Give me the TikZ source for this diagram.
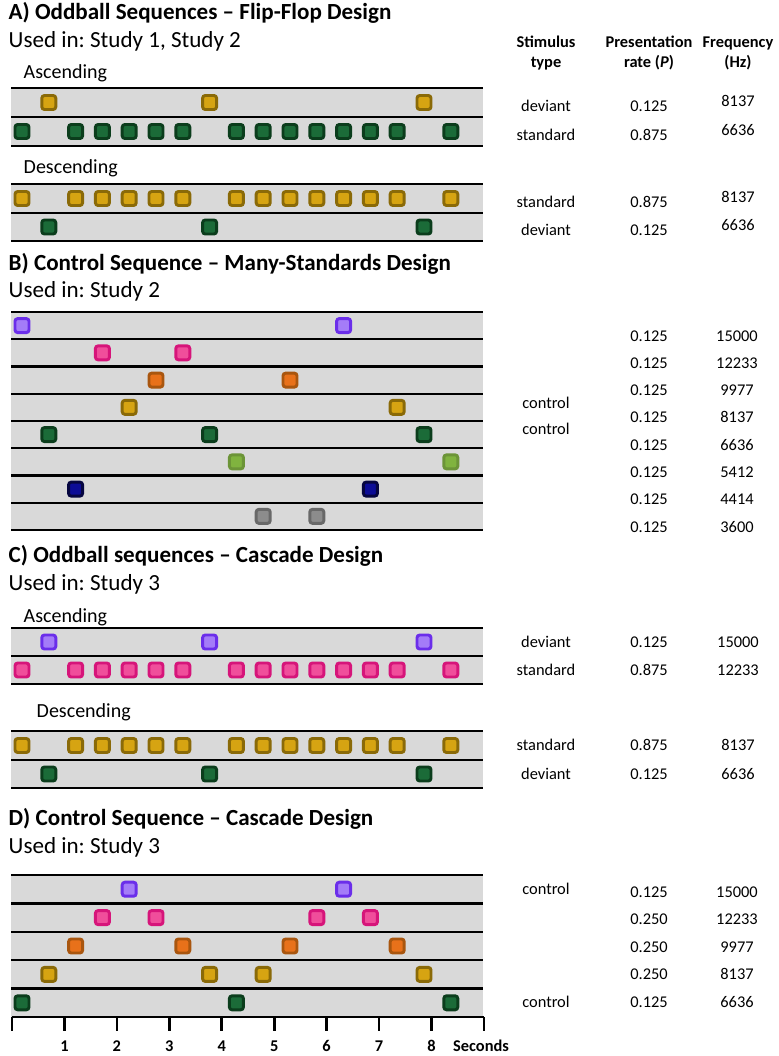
\documentclass[tikz,border=0pt]{standalone}
\usepackage{fontspec}
\setmainfont{Carlito}
\usepackage{xcolor}
\usepackage{tikz}
\frenchspacing

\definecolor{lanegray}{HTML}{D9D9D9}
\definecolor{violetedge}{HTML}{6B2EEA}\definecolor{violetfill}{HTML}{A47CF8}
\definecolor{pinkedge}{HTML}{D6157A}\definecolor{pinkfill}{HTML}{F04E9B}
\definecolor{orangeedge}{HTML}{A9560F}\definecolor{orangefill}{HTML}{E8711A}
\definecolor{goldedge}{HTML}{8A6A08}\definecolor{goldfill}{HTML}{D6A412}
\definecolor{greenedge}{HTML}{0B3D1C}\definecolor{greenfill}{HTML}{1B6B38}
\definecolor{limeedge}{HTML}{6C9438}\definecolor{limefill}{HTML}{80B33F}
\definecolor{navyedge}{HTML}{060640}\definecolor{navyfill}{HTML}{0C0C96}
\definecolor{greyedge}{HTML}{686868}\definecolor{greyfill}{HTML}{8C8C8C}

% slot k sits at x = 22 + 26.8k (px)
\newcommand{\stdslots}{0,2,3,4,5,6,8,9,10,11,12,13,14,16}
\newcommand{\devslots}{1,7,15}

\begin{document}
\begin{tikzpicture}[x=0.75pt,y=-0.75pt,font=\fontsize{12.3}{14}\selectfont,
  heading/.style={anchor=base west,font=\fontsize{17.3}{20}\selectfont\bfseries},
  usedin/.style={anchor=base west,font=\fontsize{17.3}{20}\selectfont},
  seqlabel/.style={anchor=base west,font=\fontsize{15}{18}\selectfont},
  colhead/.style={anchor=base,font=\fontsize{12.3}{14}\selectfont\bfseries},
  cell/.style={anchor=base},
  divider/.style={line width=1.7pt},
  axisline/.style={line width=2pt},
  tone/.style 2 args={draw=#1,fill=#2,line width=2.2pt,rounded corners=2pt},
  f15000/.style={tone={violetedge}{violetfill}},
  f12233/.style={tone={pinkedge}{pinkfill}},
  f9977/.style={tone={orangeedge}{orangefill}},
  f8137/.style={tone={goldedge}{goldfill}},
  f6636/.style={tone={greenedge}{greenfill}},
  f5412/.style={tone={limeedge}{limefill}},
  f4414/.style={tone={navyedge}{navyfill}},
  f3600/.style={tone={greyedge}{greyfill}}]
\useasboundingbox (0,0) rectangle (778,1056);

% column heads
\node[colhead] (typehead) at (546,48) {Stimulus};
\node[colhead] (typehead2) at (546,68) {type};
\node[colhead] (ratehead) at (649,48) {Presentation};
\node[colhead] (ratehead2) at (649,68) {rate (\textit{P})};
\node[colhead] (freqhead) at (738,48) {Frequency};
\node[colhead] (freqhead2) at (738,68) {(Hz)};

% A) flip-flop
\node[heading] (titleA) at (4,20) {A) Oddball Sequences – Flip-Flop Design};
\node[usedin] (usedA) at (4,48) {Used in: Study 1, Study 2};
\node[seqlabel] (ascA) at (19,79) {Ascending};
\fill[lanegray] (11,88) rectangle (483,146);
\foreach \y in {88,117,146} \draw[divider] (11,\y) -- (483,\y);
\foreach \k in \devslots \draw[f8137] ({15+26.8*\k},95.5) rectangle +(14,14);
\foreach \k in \stdslots \draw[f6636] ({15+26.8*\k},124.5) rectangle +(14,14);
\node[seqlabel] (descA) at (19,173) {Descending};
\fill[lanegray] (11,184) rectangle (483,241);
\foreach \y in {184,213,241} \draw[divider] (11,\y) -- (483,\y);
\foreach \k in \stdslots \draw[f8137] ({15+26.8*\k},191.5) rectangle +(14,14);
\foreach \k in \devslots \draw[f6636] ({15+26.8*\k},220) rectangle +(14,14);

\node[cell] (typeA1) at (546,111) {deviant};
\node[cell] (rateA1) at (649,111) {0.125};
\node[cell] (freqA1) at (738,107) {8137};
\node[cell] (typeA2) at (546,140) {standard};
\node[cell] (rateA2) at (649,140) {0.875};
\node[cell] (freqA2) at (738,135) {6636};
\node[cell] (typeA3) at (546,207) {standard};
\node[cell] (rateA3) at (649,207) {0.875};
\node[cell] (freqA3) at (738,202) {8137};
\node[cell] (typeA4) at (546,235) {deviant};
\node[cell] (rateA4) at (649,235) {0.125};
\node[cell] (freqA4) at (738,230) {6636};

% B) many-standards
\node[heading] (titleB) at (4,270) {B) Control Sequence – Many-Standards Design};
\node[usedin] (usedB) at (4,297) {Used in: Study 2};
\fill[lanegray] (11,312) rectangle (483,530);
\foreach \i in {0,...,8} \draw[divider] (11,{312+27.25*\i}) -- (483,{312+27.25*\i});
\foreach \i/\tone/\slots in {0/f15000/{0,12},1/f12233/{3,6},2/f9977/{5,10},3/f8137/{4,14},
    4/f6636/{1,7,15},5/f5412/{8,16},6/f4414/{2,13},7/f3600/{9,11}}
  \foreach \k in \slots \draw[\tone] ({15+26.8*\k},{318.6+27.25*\i}) rectangle +(14,14);
\foreach \i/\f in {0/15000,1/12233,2/9977,3/8137,4/6636,5/5412,6/4414,7/3600} {
  \node[cell] (rateB\i) at (649,{341+27.3*\i}) {0.125};
  \node[cell] (freqB\i) at (737,{341+27.3*\i}) {\f};
}
\node[cell] (typeB3) at (546,408) {control};
\node[cell] (typeB4) at (546,434) {control};

% C) cascade oddball
\node[heading] (titleC) at (4,562) {C) Oddball sequences – Cascade Design};
\node[usedin] (usedC) at (4,590) {Used in: Study 3};
\node[seqlabel] (ascC) at (19,622) {Ascending};
\fill[lanegray] (11,628) rectangle (483,684);
\foreach \y in {628,656,684} \draw[divider] (11,\y) -- (483,\y);
\foreach \k in \devslots \draw[f15000] ({15+26.8*\k},635) rectangle +(14,14);
\foreach \k in \stdslots \draw[f12233] ({15+26.8*\k},663) rectangle +(14,14);
\node[seqlabel] (descC) at (32,717) {Descending};
\fill[lanegray] (11,731) rectangle (483,788);
\foreach \y in {731,760,788} \draw[divider] (11,\y) -- (483,\y);
\foreach \k in \stdslots \draw[f8137] ({15+26.8*\k},738.5) rectangle +(14,14);
\foreach \k in \devslots \draw[f6636] ({15+26.8*\k},767) rectangle +(14,14);

\node[cell] (typeC1) at (546,647) {deviant};
\node[cell] (rateC1) at (649,647) {0.125};
\node[cell] (freqC1) at (738,647) {15000};
\node[cell] (typeC2) at (546,675) {standard};
\node[cell] (rateC2) at (649,675) {0.875};
\node[cell] (freqC2) at (738,675) {12233};
\node[cell] (typeC3) at (546,750) {standard};
\node[cell] (rateC3) at (649,750) {0.875};
\node[cell] (freqC3) at (738,750) {8137};
\node[cell] (typeC4) at (546,779) {deviant};
\node[cell] (rateC4) at (649,779) {0.125};
\node[cell] (freqC4) at (738,779) {6636};

% D) cascade control
\node[heading] (titleD) at (4,825) {D) Control Sequence – Cascade Design};
\node[usedin] (usedD) at (4,853) {Used in: Study 3};
\fill[lanegray] (11,875) rectangle (483,1017);
\foreach \i in {0,...,4} \draw[divider] (11,{875+28.4*\i}) -- (483,{875+28.4*\i});
\foreach \i/\tone/\slots in {0/f15000/{4,12},1/f12233/{3,5,11,13},2/f9977/{2,6,10,14},
    3/f8137/{1,7,9,15},4/f6636/{0,8,16}}
  \foreach \k in \slots \draw[\tone] ({15+26.8*\k},{882.2+28.4*\i}) rectangle +(14,14);
\foreach \i/\r/\f in {0/0.125/15000,1/0.250/12233,2/0.250/9977,3/0.250/8137,4/0.125/6636} {
  \node[cell] (rateD\i) at (649,{897+27.5*\i}) {\r};
  \node[cell] (freqD\i) at (737,{897+27.5*\i}) {\f};
}
\node[cell] (typeD0) at (546,894) {control};
\node[cell] (typeD4) at (546,1007) {control};

% time axis
\draw[axisline] (12,1017) -- (484,1017);
\foreach \i in {0,...,9} \draw[axisline] ({12+52.44*\i},1017) -- ({12+52.44*\i},1031);
\foreach \i in {1,...,8} \node[cell,font=\fontsize{12.3}{14}\selectfont\bfseries] (tick\i) at ({12+52.44*\i},1051) {\i};
\node[cell,font=\fontsize{12.3}{14}\selectfont\bfseries] (seconds) at (481,1051) {Seconds};
\end{tikzpicture}
\end{document}
